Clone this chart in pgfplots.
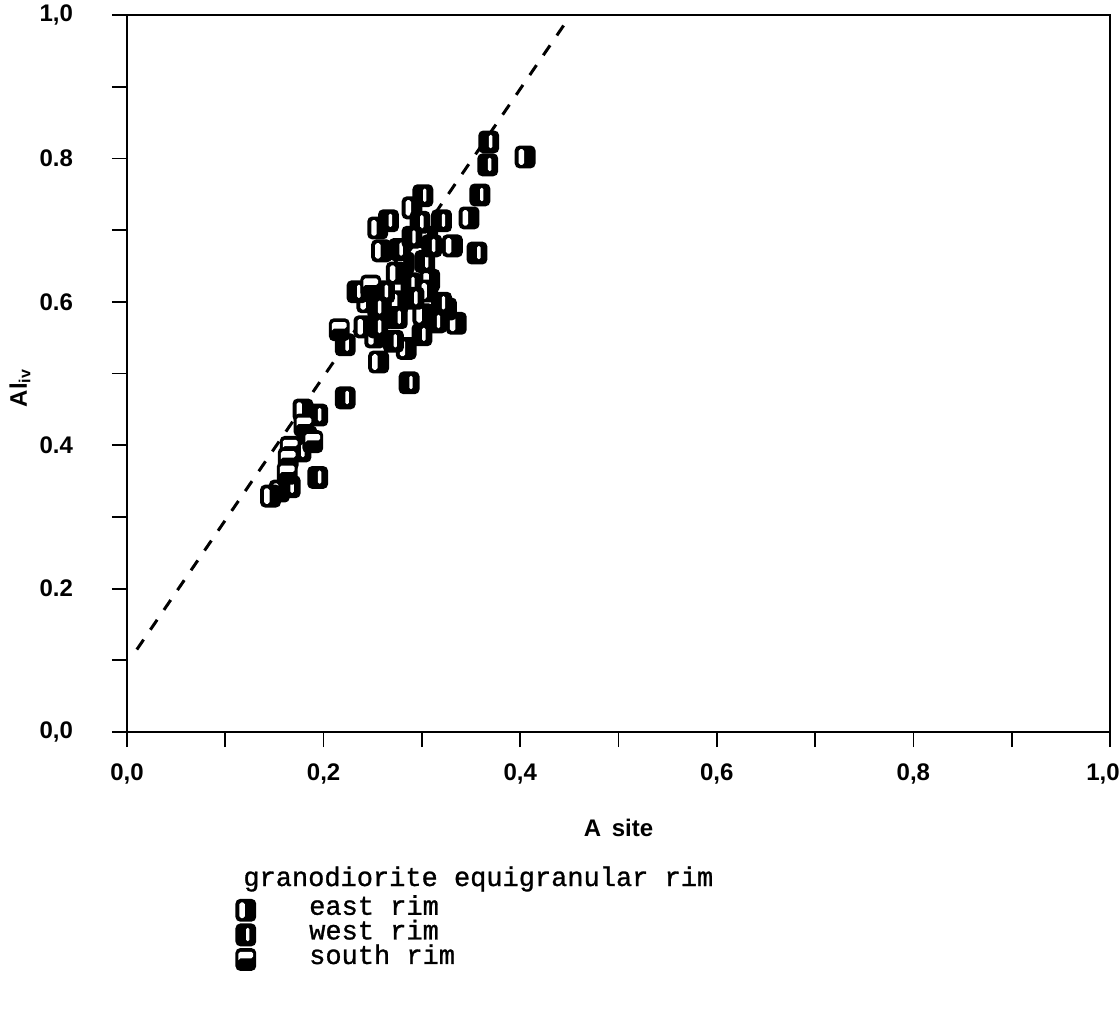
\documentclass[border=0pt]{standalone}
\usepackage{fontspec}
\setmainfont{Liberation Sans}
\newfontfamily\legendfont{Liberation Mono}[FakeBold=1]
\usepackage{pgfplots}
\pgfplotsset{compat=1.18}

% rounded rectangle path: x1 y1 x2 y2 radius
\newcommand\rrect[5]{%
  \pgfsetcornersarced{\pgfpoint{#5}{#5}}%
  \pgfpathmoveto{\pgfpoint{#1}{0pt}}%
  \pgfpathlineto{\pgfpoint{#1}{#4}}%
  \pgfpathlineto{\pgfpoint{#3}{#4}}%
  \pgfpathlineto{\pgfpoint{#3}{#2}}%
  \pgfpathlineto{\pgfpoint{#1}{#2}}%
  \pgfpathlineto{\pgfpoint{#1}{0pt}}%
  \pgfpathclose}

% symbols of the three rims
\pgfdeclareplotmark{eastrim}{%
  \rrect{-5.2pt}{-5.7pt}{5.2pt}{5.7pt}{2.4pt}%
  \pgfsetfillcolor{black}\pgfusepath{fill}%
  \rrect{-3.2pt}{-3.9pt}{-0.5pt}{3.9pt}{0.9pt}%
  \pgfsetfillcolor{white}\pgfusepath{fill}}
\pgfdeclareplotmark{westrim}{%
  \rrect{-5.2pt}{-5.7pt}{5.2pt}{5.7pt}{2.4pt}%
  \pgfsetfillcolor{black}\pgfusepath{fill}%
  \rrect{0.1pt}{-3.1pt}{1.8pt}{3.5pt}{0.7pt}%
  \pgfsetfillcolor{white}\pgfusepath{fill}}
\pgfdeclareplotmark{southrim}{%
  \rrect{-5.2pt}{-5.7pt}{5.2pt}{5.7pt}{2.4pt}%
  \pgfsetfillcolor{black}\pgfusepath{fill}%
  \rrect{-3.7pt}{0.6pt}{3.7pt}{3.8pt}{0.9pt}%
  \pgfsetfillcolor{white}\pgfusepath{fill}}

\newcommand\tickfont{\fontsize{12}{14}\selectfont\bfseries}
\newcommand\keyfont{\legendfont\fontsize{13.5}{16}\selectfont}

\begin{document}
\begin{tikzpicture}
\begin{axis}[
  scale only axis, width=491.5pt, height=358.5pt,
  xmin=0, xmax=1, ymin=0, ymax=1,
  axis line style={line width=1.4pt},
  tick style={line width=0.9pt, black},
  tick align=outside,
  major tick length=7.5pt, minor tick length=7.5pt,
  xtick pos=bottom, ytick pos=left,
  xtick={0,0.2,0.4,0.6,0.8,1}, minor xtick={0.1,0.3,0.5,0.7,0.9},
  ytick={0,0.2,0.4,0.6,0.8,1}, minor ytick={0.1,0.3,0.5,0.7,0.9},
  xticklabels={{0,0},{0,2},{0,4},{0,6},{0,8},{\hspace*{-7pt}1,0}},
  yticklabels={{0,0},0.2,0.4,0.6,0.8,{1,0}},
  ticklabel style={font=\tickfont},
  xticklabel shift=5pt,
  yticklabel shift=16pt,
  xlabel={A\hspace{0.45em}site},
  ylabel={Al\textsubscript{iv}},
  every axis x label/.style={at={(axis description cs:0.5,-0.134)}, anchor=center, font=\tickfont},
  every axis y label/.style={at={(axis description cs:-0.109,0.48)}, rotate=90, anchor=center, font=\tickfont},
  legend style={at={(axis description cs:0.1099,-0.2322)}, anchor=north west,
    draw=none, fill=none, inner sep=0pt, column sep=26.5pt, row sep=0.9pt,
    font=\keyfont,
    nodes={inner sep=0pt, text height=7pt, text depth=2.5pt}},
  legend cell align=left,
  legend image code/.code={\draw[#1] plot coordinates {(0pt,0pt)};},
]
% reference line
\addplot[black, line width=1.5pt, dash pattern=on 6pt off 6pt, forget plot]
  coordinates {(0.01,0.115) (0.449,0.995)};

\addplot[only marks, mark=eastrim] coordinates {
  (0.405,0.802) (0.348,0.717) (0.331,0.678) (0.290,0.731) (0.255,0.703)
  (0.259,0.671) (0.282,0.654) (0.306,0.690) (0.308,0.630) (0.274,0.640)
  (0.276,0.600) (0.306,0.615) (0.301,0.582) (0.335,0.570) (0.244,0.600)
  (0.241,0.565) (0.262,0.578) (0.252,0.551) (0.284,0.535) (0.256,0.516)
  (0.179,0.449) (0.155,0.336) (0.146,0.329) (0.325,0.590)
};
\addlegendentry{east rim}

\addplot[only marks, mark=westrim] coordinates {
  (0.368,0.823) (0.367,0.791) (0.359,0.749) (0.356,0.668) (0.320,0.713)
  (0.301,0.748) (0.298,0.711) (0.266,0.713) (0.277,0.673) (0.290,0.690)
  (0.303,0.656) (0.289,0.625) (0.262,0.614) (0.234,0.614) (0.292,0.605)
  (0.320,0.598) (0.315,0.572) (0.255,0.592) (0.255,0.565) (0.275,0.578)
  (0.271,0.545) (0.300,0.554) (0.222,0.540) (0.287,0.487) (0.222,0.466)
  (0.194,0.442) (0.183,0.411) (0.177,0.392) (0.166,0.342) (0.194,0.355)
  (0.310,0.678)
};
\addlegendentry{west rim}

\addplot[only marks, mark=southrim] coordinates {
  (0.248,0.622) (0.216,0.561) (0.180,0.428) (0.189,0.405) (0.166,0.397)
  (0.164,0.381) (0.163,0.361)
};
\addlegendentry{south rim}
\end{axis}
% heading of the symbol key (the axis box has its lower left corner at the origin)
\node[anchor=base west, inner sep=0pt, font=\keyfont] at (58pt,-77pt)
  {granodiorite equigranular rim};
\pgfresetboundingbox
\path[use as bounding box] (-63.5pt,-140.5pt) rectangle (496.5pt,366pt);
\end{tikzpicture}
\end{document}
